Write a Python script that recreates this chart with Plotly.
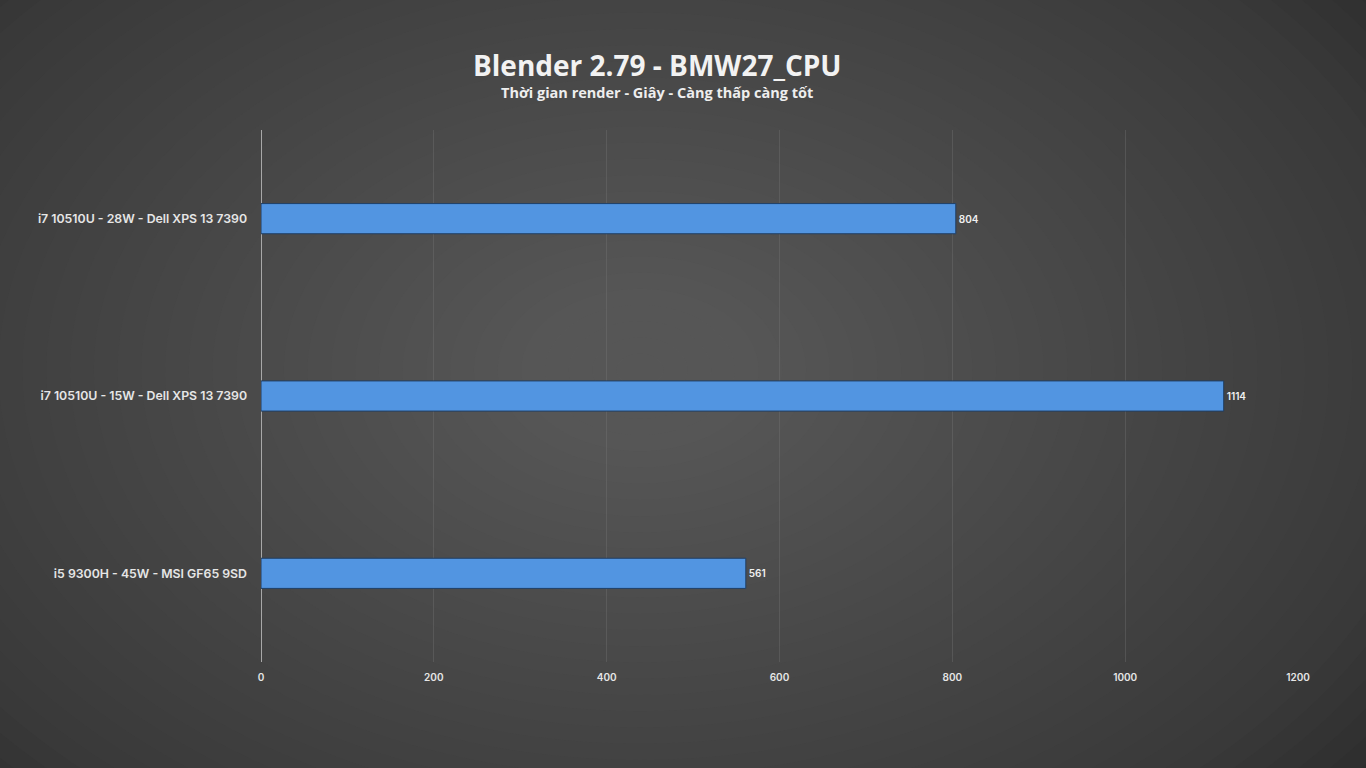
import plotly.graph_objects as go

categories = ["i7 10510U - 28W - Dell XPS 13 7390",
              "i7 10510U - 15W - Dell XPS 13 7390",
              "i5 9300H - 45W - MSI GF65 9SD"]
values = [804, 1114, 561]
tick_vals = [0, 200, 400, 600, 800, 1000, 1200]

L, R, T, B = 261, 68, 130, 106
W, H = 1366, 768
pw, ph = W - L - R, H - T - B

def px2x(px):
    return (px - L) / pw

def py2y(py):
    return (H - B - py) / ph

fig = go.Figure()
fig.add_trace(go.Bar(
    y=categories, x=values, orientation="h",
    width=0.17,
    marker=dict(color="#5295e1", line=dict(color="#1f3f66", width=1)),
    text=[str(v) for v in values], textposition="outside",
    textfont=dict(family="Inter", size=10, color="#f0f0f0", weight=600),
    cliponaxis=False,
))

# radial background gradient using stacked translucent ellipses
shapes = []
cx, cy = 640, 370
n = 40
for i in range(n):
    f = 1 - i / n
    rx, ry = 950 * f, 650 * f
    shapes.append(dict(type="circle", xref="paper", yref="paper", layer="below",
                       x0=px2x(cx - rx), x1=px2x(cx + rx),
                       y0=py2y(cy + ry), y1=py2y(cy - ry),
                       fillcolor="rgba(115,115,115,0.034)", line=dict(width=0)))

annotations = [
    dict(text="<b>Blender 2.79 - BMW27_CPU</b>", xref="paper", yref="paper",
         x=px2x(657), y=py2y(65), xanchor="center", yanchor="middle", showarrow=False,
         font=dict(family="Open Sans", size=28, color="#f2f2f2")),
    dict(text="<b>Thời gian render - Giây - Càng thấp càng tốt</b>", xref="paper", yref="paper",
         x=px2x(657), y=py2y(92), xanchor="center", yanchor="middle", showarrow=False,
         font=dict(family="Open Sans", size=14.5, color="#eeeeee")),
]

fig.update_layout(
    width=W, height=H,
    margin=dict(l=L, r=R, t=T, b=B),
    paper_bgcolor="#2b2b2b", plot_bgcolor="rgba(0,0,0,0)",
    shapes=shapes, annotations=annotations,
    showlegend=False,
    xaxis=dict(range=[0, 1200], tickvals=tick_vals, showgrid=True,
               gridcolor="rgba(120,120,120,0.35)", gridwidth=1,
               zeroline=True, zerolinecolor="#a8a8a8", zerolinewidth=1,
               tickfont=dict(family="Inter", size=10, color="#e6e6e6", weight=600),
               showline=False, ticks="", ticklabelstandoff=8, fixedrange=True),
    yaxis=dict(categoryorder="array", categoryarray=categories[::-1],
               range=[-0.5, 2.5], showgrid=False, zeroline=False,
               tickfont=dict(family="Inter", size=12.3, color="#e6e6e6", weight=600),
               ticks="", ticklabelstandoff=13, fixedrange=True),
)
fig.write_html("out.html", config={"displayModeBar": False},
               post_script="document.body.style.margin='0';")
